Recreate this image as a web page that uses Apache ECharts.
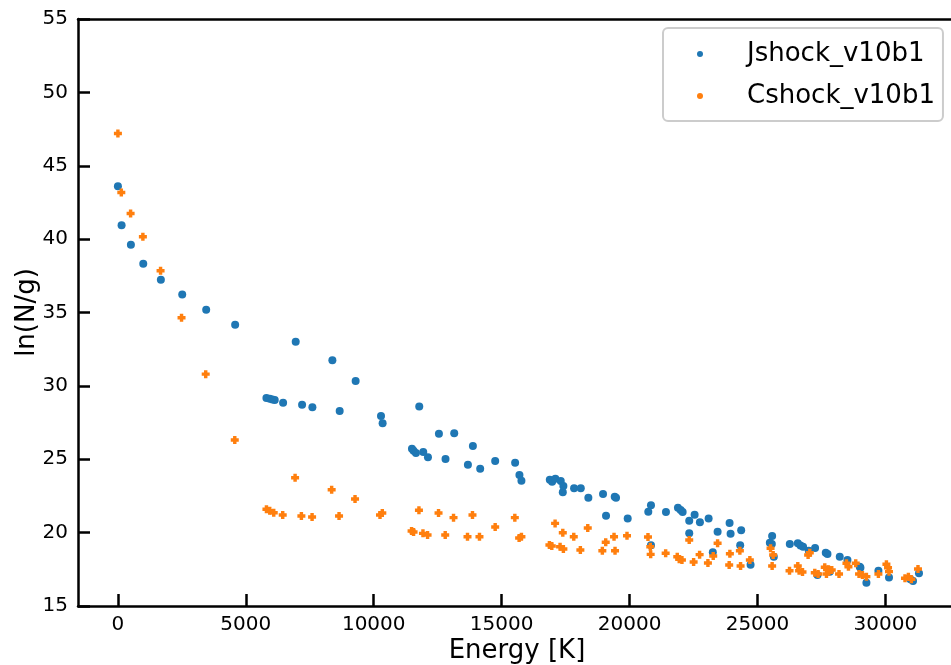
<!DOCTYPE html>
<html>
<head>
<meta charset="utf-8">
<script src="https://cdn.jsdelivr.net/npm/echarts@6/dist/echarts.min.js"></script>
<style>
  html, body { margin: 0; padding: 0; background: #fff; }
  #chart { width: 951px; height: 665px; }
</style>
</head>
<body>
<div id="chart"></div>
<script>
// Level populations: energy of each level [K] against ln(N/g)
const jshockEnergy = [0, 144, 508, 991, 1679, 2514, 3451, 4583, 5806, 5935, 6040, 6130, 6457, 6950, 7199, 7602,
  8383, 8668, 9293, 10284, 10347, 11494, 11557, 11650, 11779, 11935, 12119, 12548, 12806, 13146, 13681, 13876,
  14161, 14747, 15527, 15695, 15773, 16882, 16972, 17101, 17311, 17390, 17413, 17831, 18093, 18389, 18963, 19080,
  19420, 19471, 19927, 20732, 20837, 20837, 21423, 21891, 21996, 22074, 22332, 22332, 22543, 22750, 23090, 23254,
  23441, 23910, 23949, 24324, 24363, 24730, 25483, 25561, 25573, 25639, 26264, 26576, 26681, 26783, 27006, 27252,
  27344, 27669, 27736, 27825, 28216, 28517, 28997, 29025, 29258, 29727, 30141, 30977, 31079, 31313];
const jshockLn = [43.6, 40.95, 39.61, 38.32, 37.23, 36.23, 35.18, 34.16, 29.17, 29.12, 29.08, 29.03, 28.85, 33.0, 28.71, 28.54,
  31.74, 28.28, 30.33, 27.94, 27.45, 25.72, 25.58, 25.42, 28.6, 25.49, 25.13, 26.74, 25.01, 26.78, 24.63, 25.9,
  24.35, 24.88, 24.76, 23.92, 23.54, 23.6, 23.47, 23.67, 23.51, 22.75, 23.17, 23.02, 23.02, 22.38, 22.63, 21.15,
  22.45, 22.38, 20.97, 21.42, 21.86, 19.14, 21.4, 21.7, 21.54, 21.4, 20.81, 19.95, 21.22, 20.7, 20.97, 18.66,
  20.06, 20.65, 19.93, 19.14, 20.16, 17.81, 19.31, 19.22, 19.77, 18.36, 19.22, 19.27, 19.13, 19.04, 18.77, 18.95,
  17.11, 18.63, 18.54, 17.34, 18.36, 18.13, 17.68, 17.61, 16.59, 17.4, 16.95, 16.82, 16.7, 17.23];

const cshockEnergy = [0, 133, 496, 976, 1667, 2487, 3432, 4568, 5806, 5935, 6091, 6442, 6926, 7172, 7590, 8355,
  8644, 9269, 10245, 10335, 11479, 11557, 11767, 11924, 12104, 12533, 12794, 13119, 13665, 13860, 14133, 14747,
  15515, 15683, 15773, 16867, 16960, 17089, 17284, 17390, 17413, 17819, 18077, 18366, 18936, 19068, 19393, 19432,
  19900, 20720, 20810, 20825, 21411, 21864, 21942, 22047, 22332, 22504, 22738, 23063, 23270, 23441, 23894, 23921,
  24312, 24339, 24702, 25511, 25573, 25612, 26253, 26576, 26627, 26760, 26979, 27045, 27240, 27369, 27630, 27696,
  27774, 27903, 28188, 28478, 28556, 28841, 28970, 29103, 29258, 29727, 30040, 30103, 30141, 30766, 30899, 31016, 31274];
const cshockLn = [47.2, 43.18, 41.75, 40.16, 37.84, 34.64, 30.8, 26.31, 21.59, 21.49, 21.36, 21.2, 23.74, 21.13, 21.06, 22.92,
  21.13, 22.29, 21.2, 21.34, 20.11, 20.04, 21.52, 19.95, 19.84, 21.34, 19.84, 21.02, 19.72, 21.2, 19.72, 20.38,
  21.02, 19.63, 19.72, 19.16, 19.09, 20.63, 19.04, 19.99, 18.88, 19.72, 18.81, 20.31, 18.77, 19.34, 19.72, 18.77,
  19.79, 19.7, 19.04, 18.52, 18.59, 18.36, 18.18, 18.13, 19.5, 18.0, 18.5, 17.93, 18.41, 19.27, 17.79, 18.56,
  18.77, 17.72, 18.13, 18.93, 17.72, 18.47, 17.4, 17.72, 17.4, 17.32, 18.47, 18.63, 17.27, 17.18, 17.64, 17.18,
  17.5, 17.45, 17.18, 17.91, 17.68, 17.91, 17.18, 17.11, 17.0, 17.18, 17.84, 17.61, 17.34, 16.89, 17.0, 16.82, 17.52];

const seriesNames = ['Jshock_v10b1', 'Cshock_v10b1'];
const xTickValues = [0, 5000, 10000, 15000, 20000, 25000, 30000];

const toPairs = (xs, ys) => xs.map((x, i) => [x, ys[i]]);

const FONT = 'DejaVu Sans';
const plusFilled = 'path://M2,0H5V2H7V5H5V7H2V5H0V2H2Z';
const X_MIN = -1560, X_MAX = 32760, Y_MIN = 15, Y_MAX = 55;
const X_STEP = 5000, Y_STEP = 5;
const TICK_LEN = 12;
const CHART_W = 951;
const PLOT = { left: 78, right: -5, top: 19, bottom: 59 };
// pixel position of energy 0 inside the plot, used to start the x tick grid there
const plotW = CHART_W - PLOT.left - PLOT.right;
const zeroLeft = PLOT.left + (0 - X_MIN) * plotW / (X_MAX - X_MIN);

const chart = echarts.init(document.getElementById('chart'), null, { renderer: 'canvas' });

const labelStyle = { fontFamily: FONT, fontSize: 20, color: '#000' };
const nameStyle = { fontFamily: FONT, fontSize: 26, color: '#000' };
const spine = () => ({ show: true, onZero: false, lineStyle: { color: '#000', width: 2.5 } });
const tickLine = () => ({ color: '#000', width: 2.5 });
const hiddenAxis = (gridIndex, min, max) => ({ type: 'value', gridIndex: gridIndex, min: min, max: max, show: false });
const baseGrid = { containLabel: false, outerBoundsMode: 'none', show: false };

// top and right spines close the frame; they carry no ticks or labels
const frameAxis = (position, min, max) => ({
  type: 'value', gridIndex: 0, position: position, min: min, max: max,
  axisLine: spine(), axisTick: { show: false }, axisLabel: { show: false }, splitLine: { show: false }
});

chart.setOption({
  animation: false,
  backgroundColor: '#fff',
  // grid 0 holds the data; grids 1 and 2 are inset by the tick length so
  // that their outward ticks end on the spines of grid 0
  grid: [
    Object.assign({}, baseGrid, PLOT),
    Object.assign({}, baseGrid, PLOT, { left: zeroLeft, bottom: PLOT.bottom + TICK_LEN }),
    Object.assign({}, baseGrid, PLOT, { left: PLOT.left + TICK_LEN })
  ],
  legend: {
    data: seriesNames,
    orient: 'vertical',
    left: 663, top: 28,
    padding: [11, 8, 10, 34],
    itemGap: 12,
    itemWidth: 20, itemHeight: 6,
    icon: 'circle',
    backgroundColor: 'rgba(255,255,255,0.85)',
    borderColor: '#cccccc', borderWidth: 2, borderRadius: 5,
    textStyle: { fontFamily: FONT, fontSize: 26, color: '#000', padding: [0, 0, 0, 32], lineHeight: 30 }
  },
  xAxis: [
    {
      type: 'value',
      gridIndex: 0,
      position: 'bottom',
      min: X_MIN, max: X_MAX,
      name: 'Energy [K]',
      nameLocation: 'middle',
      nameGap: 32,
      nameMoveOverlap: false,
      nameTextStyle: nameStyle,
      axisLine: spine(),
      axisTick: { show: false },
      axisLabel: Object.assign({ customValues: xTickValues, margin: 9, formatter: (v) => String(v) }, labelStyle),
      splitLine: { show: false }
    },
    frameAxis('top', X_MIN, X_MAX),
    {
      type: 'value',
      gridIndex: 1,
      position: 'bottom',
      min: 0, max: X_MAX, interval: X_STEP,
      axisLine: { show: false, onZero: false },
      axisTick: { show: true, inside: false, length: TICK_LEN, lineStyle: tickLine() },
      axisLabel: { show: false },
      splitLine: { show: false }
    },
    hiddenAxis(2, X_MIN, X_MAX)
  ],
  yAxis: [
    {
      type: 'value',
      gridIndex: 0,
      position: 'left',
      min: Y_MIN, max: Y_MAX, interval: Y_STEP,
      name: 'ln(N/g)',
      nameLocation: 'middle',
      nameGap: 38,
      nameMoveOverlap: false,
      nameTextStyle: nameStyle,
      axisLine: spine(),
      axisTick: { show: false },
      axisLabel: Object.assign({ margin: 10, formatter: (v) => String(v) }, labelStyle),
      splitLine: { show: false }
    },
    frameAxis('right', Y_MIN, Y_MAX),
    hiddenAxis(1, Y_MIN, Y_MAX),
    {
      type: 'value',
      gridIndex: 2,
      position: 'left',
      min: Y_MIN, max: Y_MAX, interval: Y_STEP,
      axisLine: { show: false, onZero: false },
      axisTick: { show: true, inside: false, length: TICK_LEN, lineStyle: tickLine() },
      axisLabel: { show: false },
      splitLine: { show: false }
    }
  ],
  series: [
    {
      name: seriesNames[0],
      type: 'scatter',
      xAxisIndex: 0, yAxisIndex: 0,
      symbol: 'circle',
      symbolSize: 8,
      itemStyle: { color: '#1f77b4', opacity: 1 },
      data: toPairs(jshockEnergy, jshockLn)
    },
    {
      name: seriesNames[1],
      type: 'scatter',
      xAxisIndex: 0, yAxisIndex: 0,
      symbol: plusFilled,
      symbolSize: 8,
      itemStyle: { color: '#ff7f0e', opacity: 1 },
      data: toPairs(cshockEnergy, cshockLn)
    }
  ]
});
</script>
</body>
</html>
